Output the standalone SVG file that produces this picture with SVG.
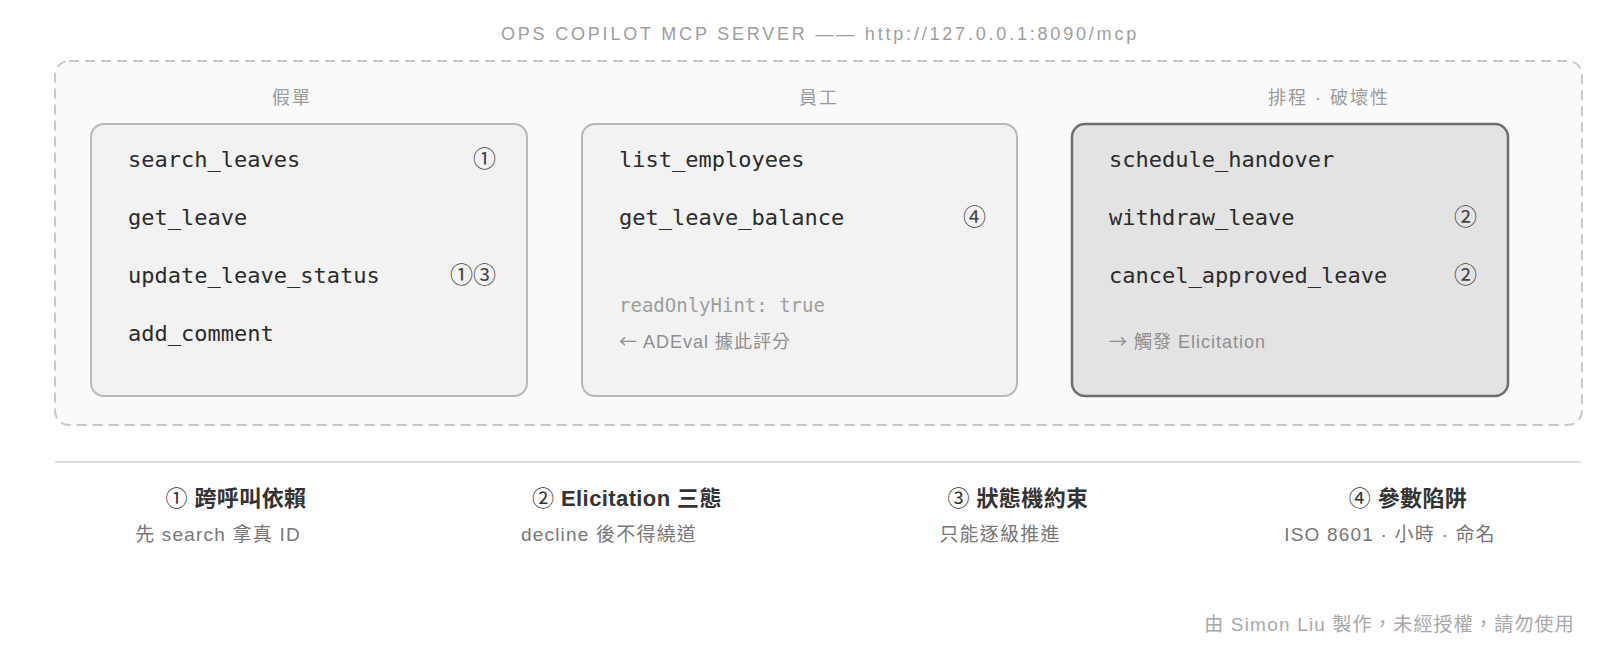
<svg xmlns="http://www.w3.org/2000/svg" width="1600" height="651" viewBox="0 0 1600 651">
<style>
.mono{font-family:"DejaVu Sans Mono","Liberation Mono",monospace;font-size:22px;fill:#2b2b2b}
.sans{font-family:"Liberation Sans","Noto Sans CJK TC",sans-serif}
.cjk{font-family:"Noto Sans CJK TC","Noto Sans CJK SC",sans-serif}
.title{font-size:18px;fill:#9e9e9e;letter-spacing:2.8px}
.sec{font-size:18px;fill:#9a9a9a;letter-spacing:2px}
.mark{font-family:"Noto Sans CJK TC","DejaVu Sans",sans-serif;font-size:23px;fill:#444}
.hint{font-family:"DejaVu Sans Mono","Liberation Mono",monospace;font-size:19px;fill:#9e9e9e}
.note{font-size:18px;fill:#8f8f8f;letter-spacing:1px}
.lh{font-size:22px;font-weight:bold;fill:#333;letter-spacing:0.4px}
.lh .cjk{font-weight:normal}
.ls{font-size:19px;fill:#777;letter-spacing:1.2px}
.foot{font-size:19px;fill:#a8a8a8;letter-spacing:1.2px}
.card{fill:#f2f2f2;stroke:#b8b8b8;stroke-width:2}
.card.hot{fill:#e3e3e3;stroke:#6e6e6e;stroke-width:2.5}
</style>
<rect width="1600" height="651" fill="#ffffff"/>
<g id="server">
<rect x="55" y="61" width="1527" height="364" rx="14" fill="#fafafa" stroke="#c9c9c9" stroke-width="2" stroke-dasharray="10 6"/>
<text class="sans title" x="820" y="40" text-anchor="middle">OPS COPILOT MCP SERVER —— http://127.0.0.1:8090/mcp</text>
</g>
<g id="leave">
<text class="sans sec" x="292" y="104" text-anchor="middle">假單</text>
<rect class="card" x="91" y="124" width="436" height="272" rx="13"/>
<text class="mono" x="128" y="167">search_leaves</text>
<text class="mark" x="496" y="167" text-anchor="end">①</text>
<text class="mono" x="128" y="225">get_leave</text>
<text class="mono" x="128" y="283">update_leave_status</text>
<text class="mark" x="496" y="283" text-anchor="end">①③</text>
<text class="mono" x="128" y="341">add_comment</text>
</g>
<g id="employee">
<text class="sans sec" x="819" y="104" text-anchor="middle">員工</text>
<rect class="card" x="582" y="124" width="435" height="272" rx="13"/>
<text class="mono" x="619" y="167">list_employees</text>
<text class="mono" x="619" y="225">get_leave_balance</text>
<text class="mark" x="986" y="225" text-anchor="end">④</text>
<text class="hint" x="619" y="312">readOnlyHint: true</text>
<text class="sans note" x="619" y="348"><tspan class="cjk">←</tspan> ADEval 據此評分</text>
</g>
<g id="schedule">
<text class="sans sec" x="1329" y="104" text-anchor="middle">排程 · 破壞性</text>
<rect class="card hot" x="1072" y="124" width="436" height="272" rx="13"/>
<text class="mono" x="1109" y="167">schedule_handover</text>
<text class="mono" x="1109" y="225">withdraw_leave</text>
<text class="mark" x="1477" y="225" text-anchor="end">②</text>
<text class="mono" x="1109" y="283">cancel_approved_leave</text>
<text class="mark" x="1477" y="283" text-anchor="end">②</text>
<text class="sans note" x="1109" y="348"><tspan class="cjk">→</tspan> 觸發 Elicitation</text>
</g>
<g id="connectors"></g>
<g id="legend">
<line x1="55" y1="462" x2="1581" y2="462" stroke="#dddddd" stroke-width="2"/>
<g id="legend-1">
<text class="sans lh" x="236" y="506" text-anchor="middle"><tspan class="cjk">①</tspan> 跨呼叫依賴</text>
<text class="sans ls" x="218" y="541" text-anchor="middle">先 search 拿真 ID</text>
</g>
<g id="legend-2">
<text class="sans lh" x="627" y="506" text-anchor="middle"><tspan class="cjk">②</tspan> Elicitation 三態</text>
<text class="sans ls" x="609" y="541" text-anchor="middle">decline 後不得繞道</text>
</g>
<g id="legend-3">
<text class="sans lh" x="1018" y="506" text-anchor="middle"><tspan class="cjk">③</tspan> 狀態機約束</text>
<text class="sans ls" x="1000" y="541" text-anchor="middle">只能逐級推進</text>
</g>
<g id="legend-4">
<text class="sans lh" x="1408" y="506" text-anchor="middle"><tspan class="cjk">④</tspan> 參數陷阱</text>
<text class="sans ls" x="1390" y="541" text-anchor="middle">ISO 8601 · 小時 · 命名</text>
</g>
</g>
<text class="sans foot" x="1575" y="631" text-anchor="end">由 Simon Liu 製作，未經授權，請勿使用</text>
</svg>
